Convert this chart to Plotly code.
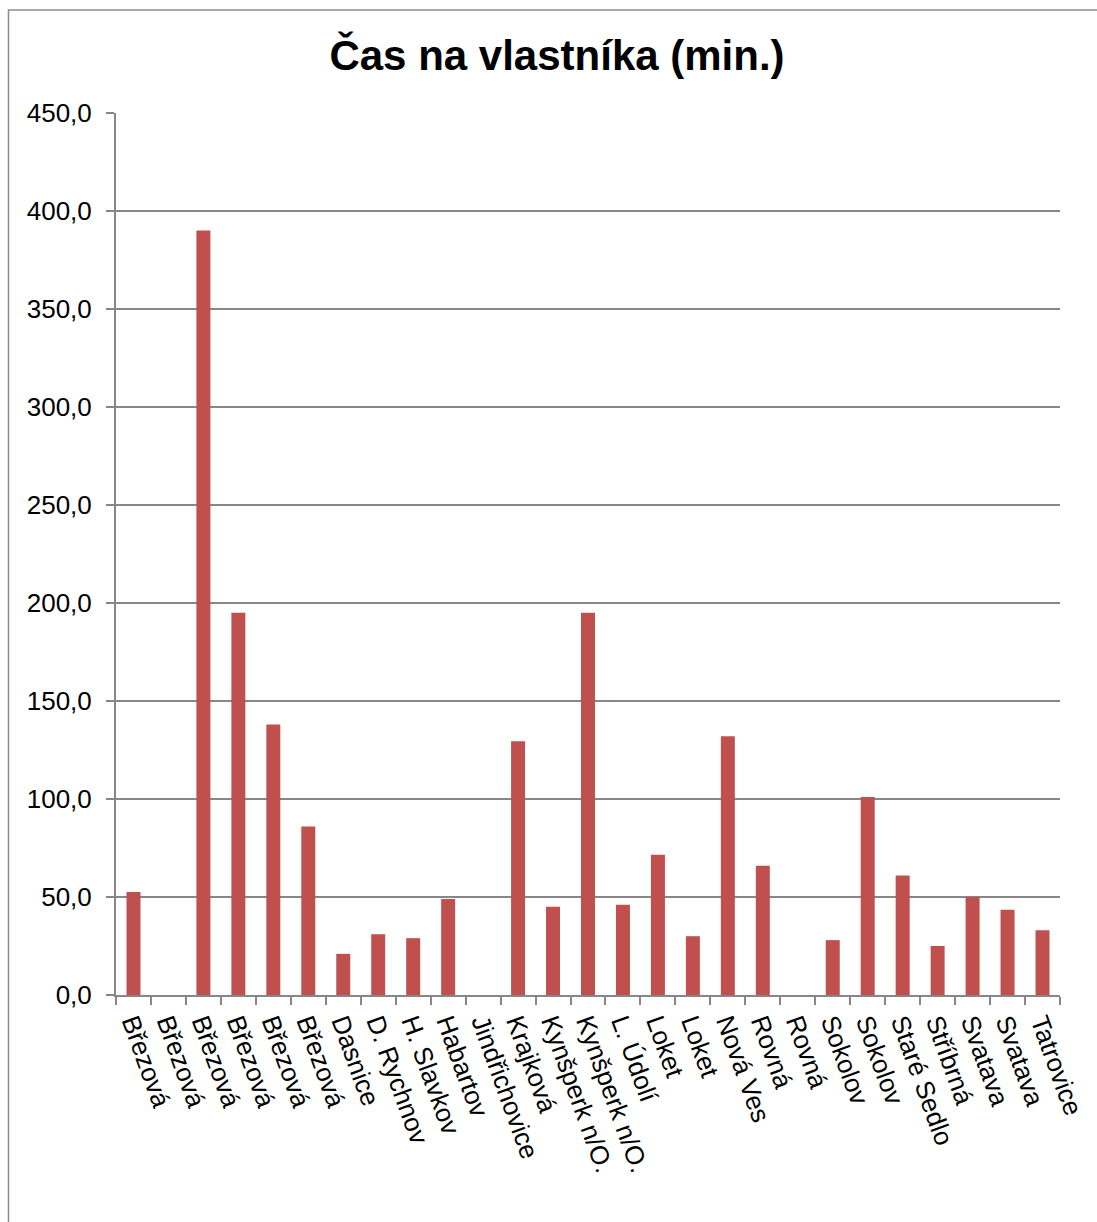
import plotly.graph_objects as go

categories = ["Březová", "Březová", "Březová", "Březová", "Březová", "Březová",
              "Dasnice", "D. Rychnov", "H. Slavkov", "Habartov", "Jindřichovice",
              "Krajková", "Kynšperk n/O.", "Kynšperk n/O.", "L. Údolí", "Loket",
              "Loket", "Nová Ves", "Rovná", "Rovná", "Sokolov", "Sokolov",
              "Staré Sedlo", "Stříbrná", "Svatava", "Svatava", "Tatrovice"]
values = [52.5, 0, 390, 195, 138, 86, 21, 31, 29, 49, 0,
          129.5, 45, 195, 46, 71.5, 30, 132, 66, 0, 28, 101, 61, 25, 50, 43.5, 33]
y_ticks = [0, 50, 100, 150, 200, 250, 300, 350, 400, 450]
title_text = "Čas na vlastníka (min.)"

W, H = 1097, 1222
L, R, T, B = 116, 1060, 113, 995

positions = list(range(len(categories)))

fig = go.Figure(go.Bar(
    x=positions, y=values,
    marker=dict(color="#C0504D", line=dict(width=0)),
    width=0.4,
))

grey = "#878787"
font_family = "Liberation Sans, Arial, sans-serif"

fig.update_layout(
    width=W, height=H,
    margin=dict(l=L, r=W - R, t=T, b=H - B, autoexpand=False),
    paper_bgcolor="white", plot_bgcolor="white",
    separators=",.",
    showlegend=False,
    font=dict(family=font_family, color="black", size=26),
    title=dict(text="<b>" + title_text + "</b>", font=dict(size=42, family=font_family),
               x=557 / W, xanchor="center", xref="container",
               y=1 - 55 / H, yanchor="middle", yref="container"),
    xaxis=dict(
        range=[-0.5, len(categories) - 0.5],
        tickmode="array", tickvals=positions, ticktext=categories,
        tickangle=70, ticks="", showgrid=False, zeroline=False,
        showline=True, linecolor=grey, linewidth=2,
        tickfont=dict(size=26),
        minor=dict(tickmode="array",
                   tickvals=[p - 0.5 for p in positions] + [len(categories) - 0.5],
                   ticks="outside", ticklen=8, tickwidth=2, tickcolor=grey, showgrid=False),
    ),
    yaxis=dict(
        range=[0, 450], tickmode="array", tickvals=y_ticks,
        tickformat=".1f", ticks="outside", ticklen=8, tickwidth=2, tickcolor=grey,
        showgrid=True, gridcolor=grey, gridwidth=2, zeroline=False,
        showline=True, linecolor=grey, linewidth=2,
        ticklabelstandoff=9, tickfont=dict(size=26),
    ),
    shapes=[dict(type="rect", xref="paper", yref="paper",
                 x0=(8.5 - L) / (R - L), x1=(W + 5 - L) / (R - L),
                 y0=(B - (H + 5)) / (B - T), y1=(B - 10) / (B - T),
                 line=dict(color="#8c8c8c", width=1.5), fillcolor="rgba(0,0,0,0)",
                 layer="below")],
)

fig.write_html("out.html")
